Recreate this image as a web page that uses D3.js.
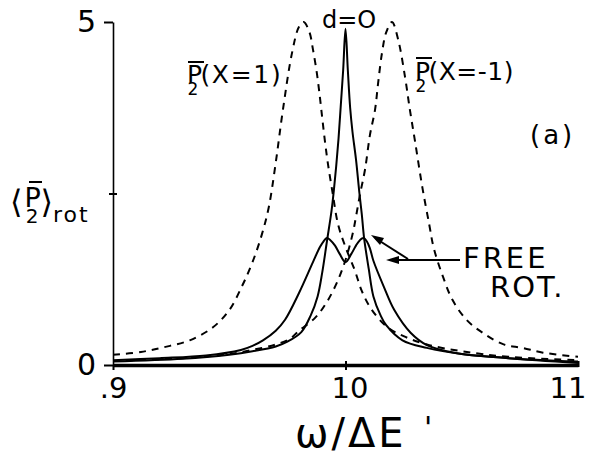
<!DOCTYPE html>
<html>
<head>
<meta charset="utf-8">
<script src="https://cdn.jsdelivr.net/npm/d3@7"></script>
<style>
body { margin: 0; background: #fff; }
svg { display: block; }
text { font-family: "DejaVu Sans", sans-serif; fill: #000; }
</style>
</head>
<body>
<div id="chart"></div>
<script>
// values: [w/dE, <P2>rot]
const p2Plus = [[9.0,0.15],[9.12,0.19],[9.22,0.26],[9.33,0.36],[9.43,0.55],[9.5,0.8],[9.555,1.15],[9.6,1.5],[9.64,1.9],[9.67,2.3],[9.7,2.95],[9.73,3.7],[9.77,4.55],[9.8,4.93],[9.82,5.0],[9.845,4.85],[9.86,4.6],[9.877,4.25],[9.89,3.9],[9.9,3.6],[9.912,3.25],[9.925,2.92],[9.945,2.5],[9.968,2.05],[10.0,1.72],[10.04,1.38],[10.07,1.08],[10.11,0.82],[10.18,0.55],[10.25,0.42],[10.35,0.3],[10.5,0.2],[10.7,0.12],[11.0,0.07]];
const p2Minus = [[9.0,0.06],[9.3,0.1],[9.5,0.16],[9.6,0.22],[9.7,0.3],[9.76,0.38],[9.8,0.5],[9.87,0.69],[9.92,0.92],[9.963,1.2],[10.0,1.53],[10.032,1.93],[10.045,2.16],[10.062,2.48],[10.084,2.85],[10.105,3.35],[10.127,3.72],[10.14,4.1],[10.157,4.55],[10.175,4.85],[10.2,5.0],[10.226,4.75],[10.256,4.2],[10.277,3.72],[10.3,3.24],[10.33,2.6],[10.36,2.05],[10.38,1.7],[10.42,1.28],[10.46,0.95],[10.52,0.66],[10.59,0.47],[10.68,0.3],[10.76,0.25],[10.85,0.18],[11.0,0.12]];
const d0 = [[9.0,0.05],[9.3,0.09],[9.5,0.15],[9.6,0.2],[9.7,0.27],[9.75,0.34],[9.81,0.48],[9.85,0.72],[9.88,1.0],[9.9,1.35],[9.92,1.8],[9.94,2.25],[9.95,2.55],[9.96,2.9],[9.97,3.3],[9.98,3.8],[9.99,4.3],[10.0,4.9],[10.01,4.3],[10.02,3.75],[10.03,3.4],[10.045,3.0],[10.06,2.5],[10.07,2.2],[10.08,1.85],[10.1,1.4],[10.12,1.0],[10.15,0.73],[10.175,0.58],[10.245,0.36],[10.35,0.25],[10.5,0.16],[10.7,0.1],[11.0,0.05]];
const freeRot = [[9.0,0.07],[9.2,0.1],[9.4,0.14],[9.55,0.22],[9.6,0.28],[9.645,0.36],[9.7,0.5],[9.74,0.66],[9.8,1.05],[9.86,1.5],[9.89,1.72],[9.905,1.8],[9.92,1.85],[9.935,1.82],[9.955,1.74],[9.975,1.62],[10.0,1.5],[10.025,1.62],[10.045,1.74],[10.062,1.82],[10.077,1.85],[10.092,1.8],[10.105,1.7],[10.12,1.52],[10.165,1.14],[10.21,0.8],[10.28,0.47],[10.35,0.29],[10.48,0.17],[10.7,0.1],[11.0,0.03]];
const xTicks = [9, 10, 11];
const xTickLabels = [".9", "10", "11"];
const yTicks = [0, 2.5, 5];
const yTickLabels = ["0", "", "5"];

var margin = {top: 22, right: 11, bottom: 101, left: 113};
var width = 589 - margin.left - margin.right,
	height = 466 - margin.top - margin.bottom;

var svg = d3.select("#chart").append("svg")
	.attr("width", 589)
	.attr("height", 466);
var g = svg.append("g")
	.attr("transform", "translate(" + margin.left + "," + margin.top + ")");

var x = d3.scaleLinear().domain([9, 11]).range([0, width]);
var y = d3.scaleLinear().domain([0, 5]).range([height, 0]);

var line = d3.line()
	.x(function(d) { return x(d[0]); })
	.y(function(d) { return y(d[1]); })
	.curve(d3.curveCatmullRom.alpha(0.5));

// dashed
[p2Plus, p2Minus].forEach(function(s) {
	g.append("path").datum(s)
		.attr("d", line)
		.attr("fill", "none")
		.attr("stroke", "#000")
		.attr("stroke-width", 2)
		.attr("stroke-dasharray", "7,6");
});
// solid
[d0, freeRot].forEach(function(s) {
	g.append("path").datum(s)
		.attr("d", line)
		.attr("fill", "none")
		.attr("stroke", "#000")
		.attr("stroke-width", 2);
});

// axes
var xAxis = g.append("g")
	.attr("transform", "translate(0," + height + ")")
	.call(d3.axisBottom(x).tickValues(xTicks)
		.tickFormat(function(d, i) { return xTickLabels[i]; })
		.tickSizeInner(5).tickSizeOuter(0).tickPadding(7));
xAxis.select(".domain").attr("stroke-width", 3.5);
xAxis.selectAll(".tick line").attr("stroke-width", 2)
	.attr("y1", function(d) { return d == 9 ? 0 : -4; })
	.attr("y2", function(d) { return d == 11 ? 2 : 5; });
xAxis.selectAll("text").attr("font-size", 29).attr("font-family", "DejaVu Sans")
	.attr("text-anchor", function(d) { return d == 11 ? "end" : "middle"; })
	.attr("x", function(d) { return d == 11 ? 8 : (d == 10 ? 4 : 0); });

var yAxis = g.append("g")
	.call(d3.axisLeft(y).tickValues(yTicks)
		.tickFormat(function(d, i) { return yTickLabels[i]; })
		.tickSizeInner(9).tickSizeOuter(0).tickPadding(8));
yAxis.select(".domain").attr("stroke-width", 1.6);
yAxis.selectAll(".tick line").attr("stroke-width", 2)
	.attr("x1", function(d) { return d == 2.5 ? -4 : -9; })
	.attr("x2", function(d) { return d == 2.5 ? 4 : 0; });
yAxis.selectAll("text").attr("font-size", 30).attr("font-family", "DejaVu Sans");

// labels
function txt(tx, ty, s, size, ls) {
	return svg.append("text").attr("x", tx).attr("y", ty)
		.attr("font-size", size).attr("letter-spacing", ls || 0).text(s);
}
function bar(x1, x2, yy) {
	svg.append("line").attr("x1", x1).attr("x2", x2).attr("y1", yy).attr("y2", yy)
		.attr("stroke", "#000").attr("stroke-width", 2);
}
// P with a subscript 2 tucked under it, then the rest
function pLabel(tx, ty, size, subSize, rest, ls) {
	var t = svg.append("text").attr("x", tx).attr("y", ty).attr("font-size", size);
	t.append("tspan").text("P");
	t.append("tspan").attr("dx", -size * 0.58).attr("dy", size * 0.48)
		.attr("font-size", subSize).text("2");
	t.append("tspan").attr("dx", size * 0.08).attr("dy", -size * 0.48)
		.attr("letter-spacing", ls || 0).text(rest);
	return t;
}

pLabel(187, 83, 25, 17, "(X=1)", 1.7); bar(188, 204, 62);
pLabel(415, 80, 25, 17, "(X=-1)", 0.5); bar(416, 432, 58);
txt(322, 28, "d=O", 24);
txt(530, 144, "(a)", 26, 3);
txt(463, 268, "FREE", 29, 3);
txt(490, 297, "ROT.", 29, 2);
txt(295, 447, "ω/ΔE", 40, 3);
txt(424, 438, "'", 30);

// y label
var yl = svg.append("text").attr("x", 10).attr("y", 213).attr("font-size", 32);
yl.append("tspan").text("⟨");
yl.append("tspan").attr("dx", 2).attr("dy", -6).attr("font-size", 27).text("P");
yl.append("tspan").attr("dx", -15).attr("dy", 16).attr("font-size", 20).text("2");
yl.append("tspan").attr("dx", 2).attr("dy", -10).text("⟩");
yl.append("tspan").attr("dx", 0).attr("dy", 9).attr("font-size", 22).attr("letter-spacing", 2).text("rot");
bar(29, 42, 182);

// FREE ROT arrows
svg.append("line").attr("x1", 460).attr("y1", 260).attr("x2", 390).attr("y2", 260)
	.attr("stroke", "#000").attr("stroke-width", 2);
svg.append("line").attr("x1", 408).attr("y1", 259).attr("x2", 375).attr("y2", 238)
	.attr("stroke", "#000").attr("stroke-width", 2);
svg.append("polygon").attr("points", "386,260 399,256 399,264");
svg.append("polygon").attr("points", "371,235 384,238 380,245");
</script>
</body>
</html>
